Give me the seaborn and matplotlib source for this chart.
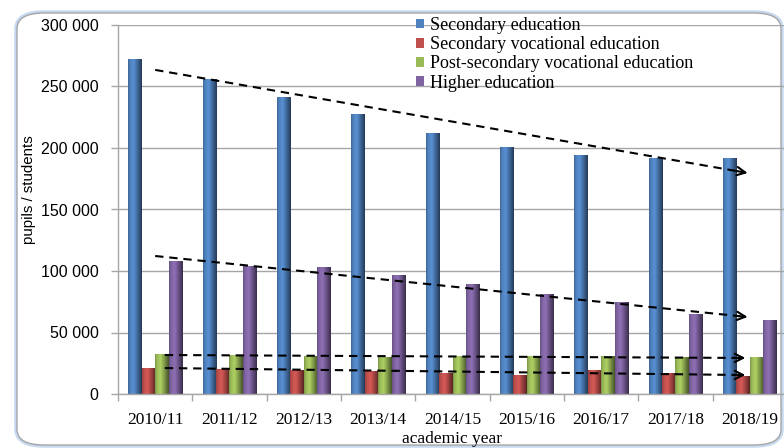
import numpy as np
import pandas as pd
import matplotlib
matplotlib.use("Agg")
import matplotlib.pyplot as plt
import seaborn as sns
from matplotlib.patches import FancyBboxPatch, Patch
from matplotlib.ticker import FuncFormatter, MultipleLocator, FixedLocator
from matplotlib.colors import to_rgb

# ---------------- data ----------------
years = ["2010/11", "2011/12", "2012/13", "2013/14", "2014/15",
         "2015/16", "2016/17", "2017/18", "2018/19"]
series = ["Secondary education", "Secondary vocational education",
          "Post-secondary vocational education", "Higher education"]
secondary = [272000, 256000, 241000, 227000, 212000, 200000, 193500, 191500, 191500]
sec_vocational = [21100, 20300, 19500, 17900, 17000, 15400, 18700, 16300, 14600]
post_sec_vocational = [32500, 30900, 30100, 29300, 30100, 30500, 30100, 29300, 29300]
higher = [107500, 104000, 102500, 96700, 89400, 81300, 74000, 65000, 59400]

# trend arrows (start value, end value) per series
trend_start = [263500, 21100, 31700, 112200]
trend_end = [179700, 15400, 29300, 62600]

colors = ["#4F81BD", "#C0504D", "#9BBB59", "#8064A2"]

df = pd.DataFrame({
    "year": years * 4,
    "series": sum([[s] * len(years) for s in series], []),
    "value": secondary + sec_vocational + post_sec_vocational + higher,
})

# ---------------- figure ----------------
sns.set_theme(style="white")
plt.rcParams["font.family"] = ["Liberation Serif", "DejaVu Sans"]

W, H = 784, 448
fig = plt.figure(figsize=(W / 100, H / 100), dpi=100)
fig.patch.set_facecolor("white")

# rounded chart border
fig.patches.append(FancyBboxPatch((17 / W, 3 / H), (W - 20) / W, (H - 16) / H,
                                  boxstyle="round,pad=0,rounding_size=0.035",
                                  transform=fig.transFigure, fc="none",
                                  ec="#c6d9f1", lw=4, zorder=-2))
fig.patches.append(FancyBboxPatch((17 / W, 3 / H), (W - 20) / W, (H - 16) / H,
                                  boxstyle="round,pad=0,rounding_size=0.035",
                                  transform=fig.transFigure, fc="white",
                                  ec="#a6a6a6", lw=1.0, zorder=-1))

left, right, top, bottom = 118, 787, 25, 394
ax = fig.add_axes([left / W, 1 - bottom / H, (right - left) / W, (bottom - top) / H])
ax.set_facecolor("none")
ax.set_zorder(1)

sns.barplot(data=df, x="year", y="value", hue="series", hue_order=series,
            palette=colors, width=0.72, gap=0, saturation=1, ax=ax,
            edgecolor="none", linewidth=0, zorder=2, legend=False)

# bevel shading on bars
for patch in list(ax.patches):
    x0, y0 = patch.get_x(), patch.get_y()
    w, h = patch.get_width(), patch.get_height()
    if h <= 0 or w <= 0:
        continue
    base = np.array(to_rgb(patch.get_facecolor()))
    xs = np.linspace(0, 1, 40)
    prof = np.interp(xs, [0, 0.12, 0.4, 0.7, 1.0], [0.8, 0.98, 1.12, 0.8, 0.45])
    grad = np.clip(base[None, :] * prof[:, None], 0, 1)
    img = np.repeat(grad[None, :, :], 2, axis=0)
    ax.imshow(img, extent=[x0, x0 + w, y0, y0 + h], aspect="auto",
              origin="lower", zorder=2.5, interpolation="bilinear")

ax.set_xlim(-0.5, 8.5)
ax.set_ylim(0, 300000)
ax.set_aspect("auto")

# trend arrows
trend_x0 = [0.0, 0.13, 0.13, 0.0]
trend_x1 = [7.97, 7.94, 7.94, 7.97]
for xs0, xs1, v0, v1 in zip(trend_x0, trend_x1, trend_start, trend_end):
    xe = xs1 - 0.1
    ax.plot([xs0, xe], [v0, v0 + (v1 - v0) * (xe - xs0) / (xs1 - xs0)],
            color="black", lw=1.5, ls=(0, (4, 2.8)), zorder=4)
    xb = xs1 - 0.15
    vb = v0 + (v1 - v0) * (xb - xs0) / (xs1 - xs0)
    ax.annotate("", xy=(xs1, v1), xytext=(xb, vb),
                arrowprops=dict(arrowstyle="->", color="black", lw=1.5,
                                mutation_scale=15, shrinkA=0, shrinkB=0),
                zorder=5)

# grid & axes
ax.yaxis.set_major_locator(MultipleLocator(50000))
ax.grid(axis="y", color="#a6a6a6", lw=1.0, zorder=0)
ax.set_axisbelow(True)
for s in ["top", "right"]:
    ax.spines[s].set_visible(False)
for s in ["left", "bottom"]:
    ax.spines[s].set_color("#a6a6a6")
    ax.spines[s].set_linewidth(1.0)

ax.yaxis.set_major_formatter(FuncFormatter(lambda v, p: f"{int(v):,}".replace(",", " ")))
ax.tick_params(axis="y", which="major", left=True, length=5, width=1, color="#a6a6a6",
               pad=9, labelsize=11.5, labelcolor="black")
for lab in ax.get_yticklabels():
    lab.set_fontfamily(["Liberation Sans", "DejaVu Sans"])

ax.set_xticks(np.arange(len(years)))
ax.set_xticklabels(years)
ax.xaxis.set_minor_locator(FixedLocator(np.arange(-0.5, 9.0, 1.0)))
ax.tick_params(axis="x", which="major", bottom=False, length=0, pad=13,
               labelsize=12.5, labelcolor="black")
ax.tick_params(axis="x", which="minor", bottom=True, length=5, width=1, color="#a6a6a6")

ax.set_xlabel("academic year", fontsize=12.5, color="black", labelpad=2)
ax.set_ylabel("pupils / students", fontsize=10.8, color="black",
              family=["Liberation Sans", "DejaVu Sans"])
ax.yaxis.set_label_coords(-0.122, 0.555)

# legend
handles = [Patch(facecolor=c, edgecolor="none") for c in colors]
leg = fig.legend(handles, series, loc="upper left",
                 bbox_to_anchor=(416 / W, 1 - 17 / H), bbox_transform=fig.transFigure,
                 frameon=False, fontsize=13, handlelength=0.45, handleheight=0.45,
                 handletextpad=0.3, labelspacing=0.12, borderpad=0, borderaxespad=0)
leg.set_zorder(6)
for t in leg.get_texts():
    t.set_color("black")

fig.savefig("out.png", dpi=100, facecolor="white")
